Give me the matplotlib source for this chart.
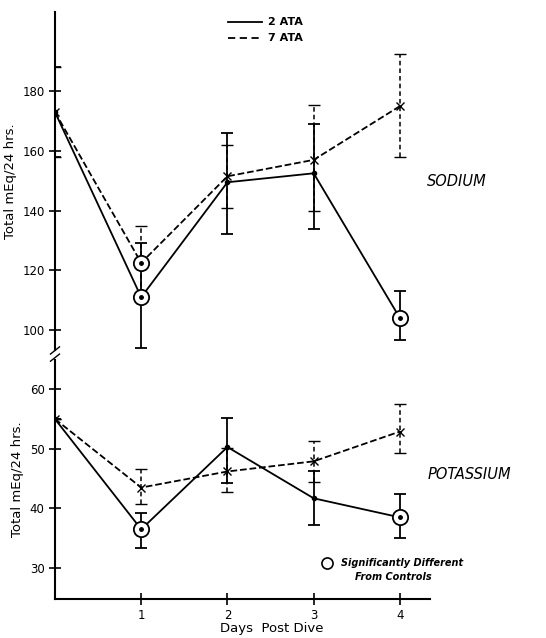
import matplotlib.pyplot as plt
import numpy as np

days = [0, 1, 2, 3, 4]

# sodium, total mEq/24 hrs
na_2ata = [173, 111, 149.5, 152.5, 104]
na_2ata_hi = [188, 129, 166, 169, 113]
na_2ata_lo = [158, 94, 132, 134, 96.5]
na_7ata = [173, 122.5, 151.5, 157, 175]
na_7ata_hi = [188, 135, 162, 175.5, 192.5]
na_7ata_lo = [158, 112, 141, 140, 158]

# potassium, total mEq/24 hrs
k_2ata = [55, 36.5, 50.3, 41.7, 38.5]
k_2ata_hi = [55, 39.2, 55.1, 46.3, 42.4]
k_2ata_lo = [55, 33.4, 44.3, 37.2, 35]
k_7ata = [55, 43.5, 46.2, 47.9, 52.9]
k_7ata_hi = [55, 46.6, 50.2, 51.3, 57.6]
k_7ata_lo = [55, 40.7, 42.8, 44.5, 49.3]

# points significantly different from controls (day, value)
na_sig = [(1, 111), (1, 122.5), (4, 104)]
k_sig = [(1, 36.5), (4, 38.5)]

plt.rcParams['font.family'] = 'DejaVu Sans'

fig = plt.figure(figsize=(5.46, 6.38), dpi=100)
ax1 = fig.add_axes([0.1007, 0.4514, 0.687, 0.5296])
ax2 = fig.add_axes([0.1007, 0.0611, 0.687, 0.3746])


def draw(ax, y1, hi1, lo1, y2, hi2, lo2, sig):
    y1 = np.array(y1); y2 = np.array(y2)
    e1 = [y1 - np.array(lo1), np.array(hi1) - y1]
    e2 = [y2 - np.array(lo2), np.array(hi2) - y2]
    ax.errorbar(days, y1, yerr=e1, color='black', lw=1.3, marker='o', ms=3,
                capsize=4, capthick=1.3, elinewidth=1.3, zorder=3)
    c = ax.errorbar(days, y2, yerr=e2, color='black', lw=1.3, ls='--', marker='x',
                    ms=6, mew=1, capsize=4, capthick=1.1, elinewidth=1.1, zorder=3)
    c[2][0].set_linestyle((0, (3, 2)))
    for d, v in sig:
        ax.plot(d, v, marker='o', ms=11, mfc='white', mec='black', mew=1.3, zorder=4)
        ax.plot(d, v, marker='o', ms=2.5, color='black', zorder=5)


draw(ax1, na_2ata, na_2ata_hi, na_2ata_lo, na_7ata, na_7ata_hi, na_7ata_lo, na_sig)
draw(ax2, k_2ata, k_2ata_hi, k_2ata_lo, k_7ata, k_7ata_hi, k_7ata_lo, k_sig)

for ax in (ax1, ax2):
    ax.set_xlim(0, 4.35)
    ax.patch.set_alpha(0)
    for s in ('top', 'right'):
        ax.spines[s].set_visible(False)
    ax.spines['left'].set_linewidth(1.5)
    ax.tick_params(axis='y', direction='inout', length=8, width=1.2, labelsize=8.5)

ax1.set_ylim(93.3, 206.5)
ax1.set_yticks([100, 120, 140, 160, 180])
ax1.spines['bottom'].set_visible(False)
ax1.set_xticks([])

ax2.set_ylim(24.8, 64.9)
ax2.set_yticks([30, 40, 50, 60])
ax2.set_xticks([1, 2, 3, 4])
ax2.spines['bottom'].set_linewidth(1.5)
ax2.tick_params(axis='x', direction='inout', length=8, width=1.2, labelsize=8.5)
fig.text(0.498, 0.004, 'Days  Post Dive', fontsize=9.5, ha='center', va='bottom')

ax1.set_ylabel('Total mEq/24 hrs.', fontsize=9.5, labelpad=4)
ax2.set_ylabel('Total mEq/24 hrs.', fontsize=9.5, labelpad=4)

# axis break marks
for yy in (0.0, 0.03):
    ax2.plot([-0.012, 0.012], [1.0 + yy - 0.005, 1.0 + yy + 0.025], color='black', lw=1,
             transform=ax2.transAxes, clip_on=False)

fig.text(0.782, 0.715, 'SODIUM', fontsize=10.5, style='italic', ha='left', va='center')
fig.text(0.784, 0.2555, 'POTASSIUM', fontsize=10.5, style='italic', ha='left', va='center')

# legend
fig.lines.append(plt.Line2D([0.418, 0.48], [0.965, 0.965], color='black', lw=1.3,
                            transform=fig.transFigure))
fig.lines.append(plt.Line2D([0.418, 0.48], [0.941, 0.941], color='black', lw=1.3,
                            ls=(0, (4, 2.5)), transform=fig.transFigure))
fig.text(0.49, 0.965, '2 ATA', fontsize=8, weight='bold', va='center')
fig.text(0.49, 0.941, '7 ATA', fontsize=8, weight='bold', va='center')

fig.lines.append(plt.Line2D([0.599], [0.118], marker='o', ms=8, mfc='white', mec='black',
                            mew=1.2, transform=fig.transFigure))
fig.text(0.625, 0.118, 'Significantly Different', fontsize=7, weight='bold',
         style='italic', va='center')
fig.text(0.65, 0.095, 'From Controls', fontsize=7, weight='bold',
         style='italic', va='center')

fig.savefig('out.png', dpi=100)
